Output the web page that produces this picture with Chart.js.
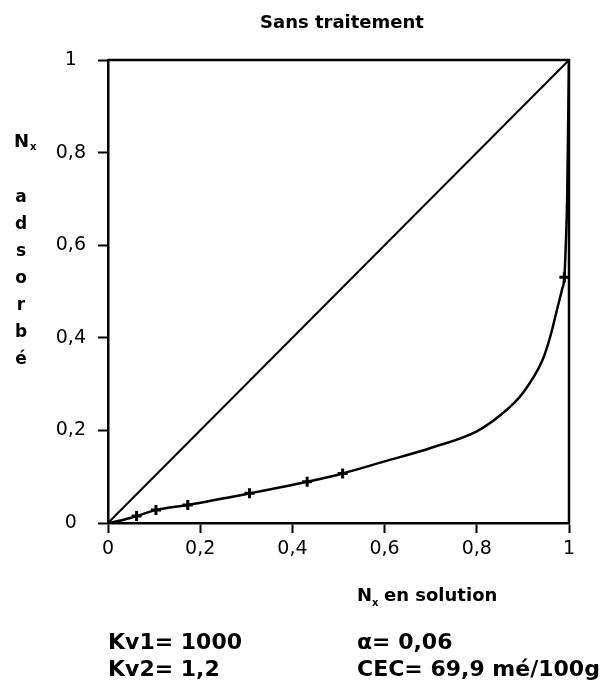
<!DOCTYPE html>
<html>
<head>
<meta charset="utf-8">
<script src="https://cdn.jsdelivr.net/npm/chart.js@4"></script>
<style>
  html, body { margin: 0; padding: 0; background: #fff; }
  canvas { display: block; }
</style>
</head>
<body>
<canvas id="isotherme" width="613" height="691"></canvas>
<script>
// Isotherme d'échange : fraction adsorbée vs fraction en solution
const courbeX = [0, 0.03, 0.062, 0.104, 0.173, 0.307, 0.432, 0.509, 0.6, 0.7, 0.8, 0.85, 0.9, 0.943, 0.96, 0.975, 0.985, 0.99, 0.993, 0.996, 0.998, 1];
const courbeY = [0, 0.006, 0.015, 0.028, 0.039, 0.064, 0.089, 0.107, 0.133, 0.162, 0.198, 0.232, 0.281, 0.353, 0.405, 0.465, 0.505, 0.531, 0.6, 0.7, 0.85, 1];

// points mesurés (croix)
const mesuresX = [0.062, 0.104, 0.173, 0.307, 0.432, 0.509, 0.99];
const mesuresY = [0.015, 0.028, 0.039, 0.064, 0.089, 0.107, 0.531];

// diagonale de non-sélectivité
const diagX = [0, 1];
const diagY = [0, 1];

const ticksX = ['0', '0,2', '0,4', '0,6', '0,8', '1'];
const ticksY = ['0', '0,2', '0,4', '0,6', '0,8', '1'];

const titre = 'Sans traitement';
const lettresY = ['a', 'd', 's', 'o', 'r', 'b', 'é'];
const paramsGauche = ['Kv1= 1000', 'Kv2= 1,2'];
const paramsDroite = ['α= 0,06', 'CEC= 69,9 mé/100g'];

const pts = (xs, ys) => xs.map((x, i) => ({ x: x, y: ys[i] }));

const FONT = '"DejaVu Sans", sans-serif';

// cadre haut/droit + textes hors axes
const annotations = {
    id: 'annotations',
    afterDraw(chart) {
        const ctx = chart.ctx;
        const a = chart.chartArea;
        ctx.save();
        ctx.strokeStyle = '#000';
        ctx.lineWidth = 2.5;
        ctx.beginPath();
        ctx.moveTo(a.left, a.top);
        ctx.lineTo(a.right, a.top);
        ctx.lineTo(a.right, a.bottom);
        ctx.stroke();

        ctx.fillStyle = '#000';
        ctx.textBaseline = 'alphabetic';

        ctx.font = 'bold 18px ' + FONT;
        ctx.textAlign = 'center';
        ctx.fillText(titre, 342, 28);

        // N_x adsorbé, écrit verticalement
        ctx.textAlign = 'left';
        ctx.font = 'bold 18px ' + FONT;
        ctx.fillText('N', 14, 147);
        ctx.font = 'bold 10px ' + FONT;
        ctx.fillText('x', 30, 150);
        ctx.font = 'bold 17px ' + FONT;
        ctx.textAlign = 'center';
        lettresY.forEach((l, i) => ctx.fillText(l, 21, 202 + i * 27));

        // N_x en solution
        ctx.textAlign = 'left';
        ctx.font = 'bold 18px ' + FONT;
        ctx.fillText('N', 357, 601);
        ctx.font = 'bold 10px ' + FONT;
        ctx.fillText('x', 372, 606);
        ctx.font = 'bold 18px ' + FONT;
        ctx.fillText('en solution', 384, 601);

        ctx.font = 'bold 22px ' + FONT;
        paramsGauche.forEach((t, i) => ctx.fillText(t, 108, 649 + i * 27));
        paramsDroite.forEach((t, i) => ctx.fillText(t, 357, 649 + i * 27));
        ctx.restore();
    }
};

const axe = {
    type: 'linear',
    min: 0,
    max: 1,
    border: { display: true, color: '#000', width: 2.5 },
    grid: { drawOnChartArea: false, color: '#000', tickLength: 10, tickWidth: 2 },
};

new Chart(document.getElementById('isotherme'), {
    type: 'scatter',
    data: {
        datasets: [
            {
                data: pts(diagX, diagY),
                showLine: true,
                borderColor: '#000',
                borderWidth: 2,
                pointRadius: 0
            },
            {
                data: pts(courbeX, courbeY),
                showLine: true,
                borderColor: '#000',
                borderWidth: 2.5,
                pointRadius: 0,
                cubicInterpolationMode: 'monotone'
            },
            {
                data: pts(mesuresX, mesuresY),
                showLine: false,
                pointStyle: 'cross',
                pointRadius: 5,
                borderWidth: 3,
                borderColor: '#000'
            }
        ]
    },
    options: {
        responsive: false,
        animation: false,
        layout: { padding: { left: 0, right: 44, top: 60, bottom: 0 } },
        plugins: {
            legend: { display: false },
            tooltip: { enabled: false }
        },
        scales: {
            x: Object.assign({}, axe, {
                position: 'bottom',
                afterFit: s => { s.height = 168; },
                ticks: {
                    stepSize: 0.2,
                    padding: 5,
                    color: '#000',
                    font: { family: FONT, size: 19 },
                    maxRotation: 0,
                    callback: (v, i) => ticksX[i]
                }
            }),
            y: Object.assign({}, axe, {
                position: 'left',
                afterFit: s => { s.width = 108; },
                ticks: {
                    stepSize: 0.2,
                    padding: 12,
                    crossAlign: 'center',
                    color: '#000',
                    font: { family: FONT, size: 19 },
                    callback: (v, i) => ticksY[i]
                }
            })
        }
    },
    plugins: [annotations]
});
</script>
</body>
</html>
